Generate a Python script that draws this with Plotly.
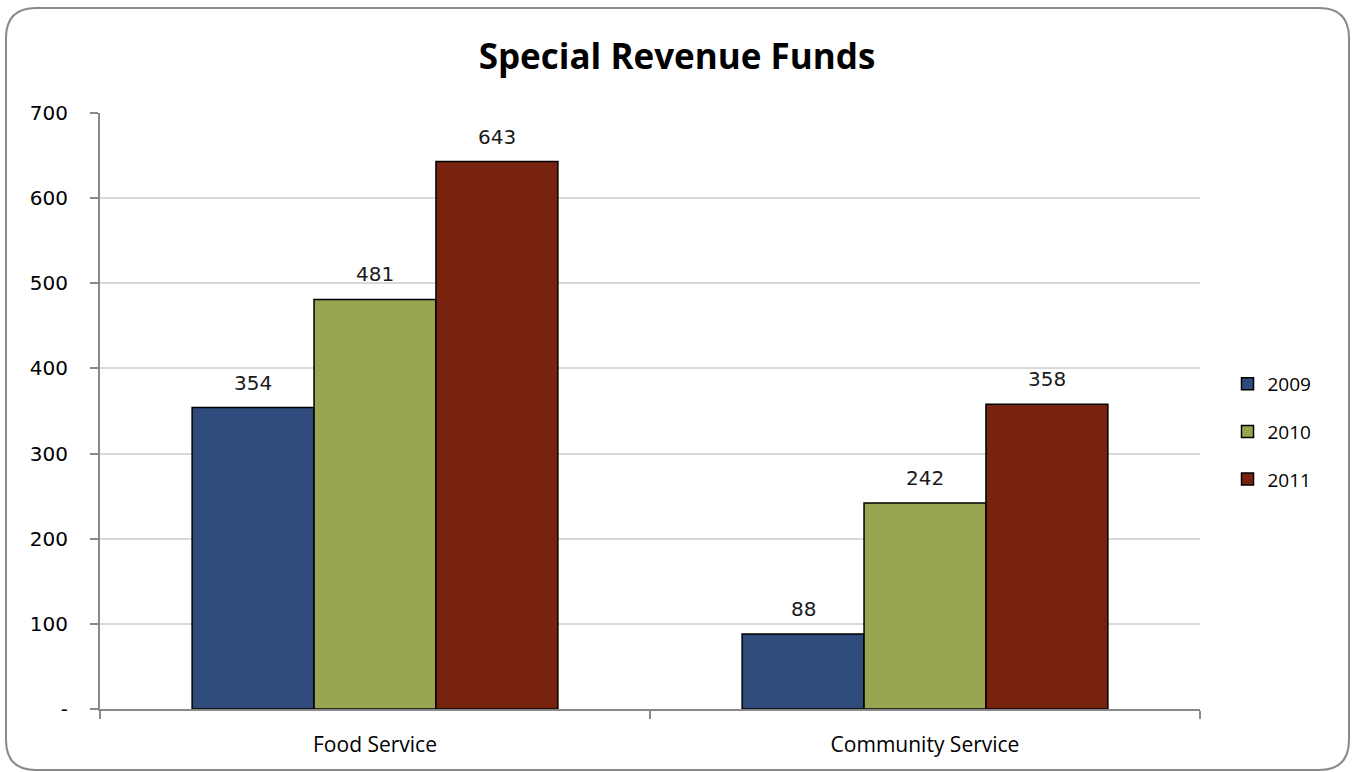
import plotly.graph_objects as go

categories = ["Food Service", "Community Service"]
years = ["2009", "2010", "2011"]
values_2009 = [354, 88]
values_2010 = [481, 242]
values_2011 = [643, 358]
y_tickvals = [0, 100, 200, 300, 400, 500, 600, 700]
y_ticktext = ["-", "100", "200", "300", "400", "500", "600", "700"]

colors = {"2009": "#2F4B7B", "2010": "#9AA551", "2011": "#77230F"}
series = {"2009": values_2009, "2010": values_2010, "2011": values_2011}

W, H = 1354, 772
L, R, T, B = 100, 154, 113, 63
BARGAP = 0.335

fig = go.Figure()
for yr in years:
    fig.add_trace(go.Bar(
        name=yr, x=categories, y=series[yr], legendgroup=yr,
        marker=dict(color=colors[yr], line=dict(color="#000000", width=1.5)),
    ))

# value labels above each bar, placed at the bar's group offset
bar_w = (1 - BARGAP) / len(years)
for j, yr in enumerate(years):
    off = (j - (len(years) - 1) / 2) * bar_w
    for i, v in enumerate(series[yr]):
        fig.add_annotation(x=i + off, y=v, xref="x", yref="y", text=str(v),
                           showarrow=False, yanchor="middle", yshift=25,
                           font=dict(family="DejaVu Sans", size=20, color="#1a1a1a"))

# rounded outer frame, expressed in paper coordinates
pw, ph = W - L - R, H - T - B
def px(x):
    return (x - L) / pw
def py(y):
    return (H - B - y) / ph
x0, x1, y0, y1, r = 6, 1349, 8, 770, 30
path = (f"M {px(x0 + r)} {py(y0)} L {px(x1 - r)} {py(y0)} "
        f"Q {px(x1)} {py(y0)} {px(x1)} {py(y0 + r)} "
        f"L {px(x1)} {py(y1 - r)} Q {px(x1)} {py(y1)} {px(x1 - r)} {py(y1)} "
        f"L {px(x0 + r)} {py(y1)} Q {px(x0)} {py(y1)} {px(x0)} {py(y1 - r)} "
        f"L {px(x0)} {py(y0 + r)} Q {px(x0)} {py(y0)} {px(x0 + r)} {py(y0)} Z")
fig.add_shape(type="path", path=path, xref="paper", yref="paper",
              line=dict(color="#8a8a8a", width=2), layer="above")

fig.update_layout(
    width=W, height=H,
    margin=dict(l=L, r=R, t=T, b=B),
    paper_bgcolor="white", plot_bgcolor="white",
    barmode="group", bargap=BARGAP, bargroupgap=0,
    title=dict(text="<b>Special Revenue Funds</b>", x=0.5, xanchor="center",
               y=1 - 57 / H, yanchor="middle",
               font=dict(family="Open Sans", size=35, color="#000000")),
    legend=dict(x=1.025, y=0.465, xanchor="left", yanchor="middle",
                font=dict(family="Open Sans", size=19, color="#000000"),
                tracegroupgap=20, itemwidth=30),
    showlegend=True,
)
fig.update_xaxes(
    showline=True, linecolor="#8a8a8a", linewidth=2,
    ticks="outside", tickson="boundaries", ticklen=8, tickcolor="#8a8a8a",
    tickwidth=1.5, ticklabelstandoff=16,
    tickfont=dict(family="Open Sans", size=21, color="#000000"),
)
fig.update_yaxes(
    range=[0, 700], tickvals=y_tickvals, ticktext=y_ticktext,
    showline=True, linecolor="#8a8a8a", linewidth=2,
    ticks="outside", ticklen=8, tickcolor="#8a8a8a", tickwidth=1.5,
    showgrid=True, gridcolor="#d9d9d9", gridwidth=1.5, zeroline=False,
    ticklabelstandoff=18,
    tickfont=dict(family="DejaVu Sans", size=20, color="#000000"),
)

fig.write_html("out.html")
